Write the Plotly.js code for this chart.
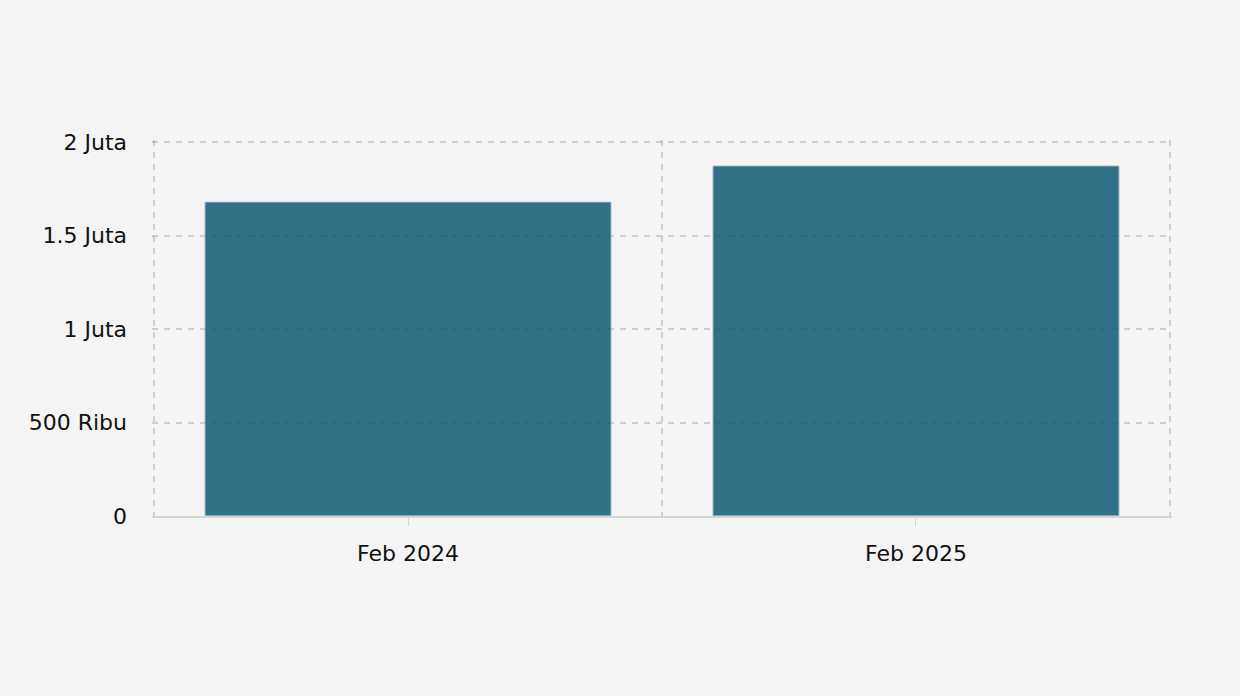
<!DOCTYPE html>
<html>
<head>
<meta charset="utf-8">
<script src="https://cdn.plot.ly/plotly-3.0.1.min.js"></script>
<style>html,body{margin:0;padding:0;background:#f4f4f4;}#chart{width:1240px;height:696px;}</style>
</head>
<body>
<div id="chart"></div>
<script>
const categories = ["Feb 2024", "Feb 2025"];
const values = [1680000, 1873000];
const yTickVals = [0, 500000, 1000000, 1500000, 2000000];
const yTickText = ["0", "500 Ribu", "1 Juta", "1.5 Juta", "2 Juta"];

const gridColor = "rgba(0,0,0,0.15)";
const xRange = [-0.504, 1.504];
const yRange = [0, 2011000];

const data = [
  {
    type: "bar",
    x: categories,
    y: values,
    marker: { color: "rgb(13,91,117)", opacity: 0.85, line: { color: "#cfd6d9", width: 1 } },
    hoverinfo: "x+y"
  },
  {
    type: "bar",
    x: categories,
    y: values,
    xaxis: "x2",
    marker: { opacity: 0 },
    hoverinfo: "skip",
    showlegend: false
  }
];

const layout = {
  width: 1240,
  height: 696,
  paper_bgcolor: "#f4f4f4",
  plot_bgcolor: "#f4f4f4",
  font: { family: "DejaVu Sans, Verdana, sans-serif", size: 22, color: "#111" },
  margin: { l: 152, r: 68, t: 140, b: 180 },
  bargap: 0.2,
  barmode: "overlay",
  showlegend: false,
  xaxis: {
    type: "category",
    range: xRange,
    showgrid: false,
    showline: true,
    linecolor: "#d4d4d4",
    linewidth: 2,
    ticks: "outside",
    ticklen: 8,
    tickcolor: "#d4d4d4",
    tickwidth: 1,
    ticklabelstandoff: 9,
    zeroline: false,
    layer: "above traces"
  },
  xaxis2: {
    overlaying: "x",
    anchor: "y",
    type: "category",
    range: xRange,
    tickson: "boundaries",
    showgrid: true,
    gridcolor: gridColor,
    gridwidth: 2,
    griddash: "6px,6px",
    showticklabels: false,
    ticks: "",
    zeroline: false,
    showline: false
  },
  yaxis: {
    range: yRange,
    tickvals: yTickVals,
    ticktext: yTickText,
    showgrid: true,
    gridcolor: gridColor,
    gridwidth: 2,
    griddash: "6px,6px",
    zeroline: false,
    showline: false,
    ticks: "",
    ticklabelstandoff: 24
  }
};

Plotly.newPlot("chart", data, layout, { displayModeBar: false, responsive: false });
</script>
</body>
</html>
